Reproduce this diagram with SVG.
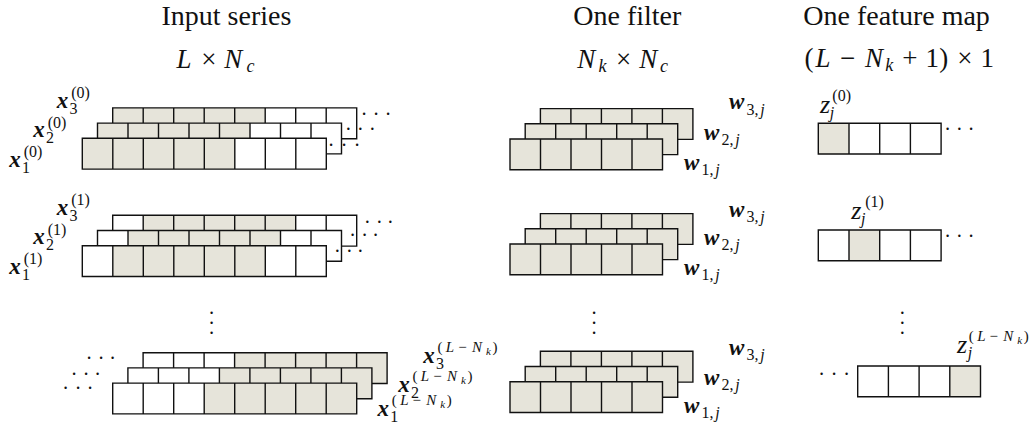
<svg xmlns="http://www.w3.org/2000/svg" width="1032" height="432" viewBox="0 0 1032 432" font-family="Liberation Serif" fill="#111">
<style>.s{fill:#e6e4da}.w{fill:#fff}.g{fill:none;stroke:#111;stroke-width:1.4}.i{font-style:italic}.b{font-weight:bold;font-style:italic;font-size:23px}.u{font-size:16px}.v{font-size:15px}.k{font-size:11px;font-style:italic}.d{font-size:20px}</style>
<defs>
<path id="g8" class="g" d="M0 0h244v30.8H0zM30.5 0v30.8M61 0v30.8M91.5 0v30.8M122 0v30.8M152.5 0v30.8M183 0v30.8M213.5 0v30.8"/>
<g id="A"><rect class="w" width="244" height="30.8"/><rect class="s" width="152.5" height="30.8"/><use href="#g8"/></g>
<g id="B"><rect class="w" width="244" height="30.8"/><rect class="s" x="30.5" width="152.5" height="30.8"/><use href="#g8"/></g>
<g id="C"><rect class="w" width="244" height="30.8"/><rect class="s" x="91.5" width="152.5" height="30.8"/><use href="#g8"/></g>
<g id="F"><rect class="s" width="152.5" height="30.8"/><path class="g" d="M0 0h152.5v30.8H0zM30.5 0v30.8M61 0v30.8M91.5 0v30.8M122 0v30.8"/></g>
<path id="g4" class="g" d="M0 0h122.8v30.7H0zM30.7 0v30.7M61.4 0v30.7M92.1 0v30.7"/>
</defs>
<rect class="w" width="1032" height="432"/>
<g id="headings">
<text font-size="28" x="161.5" y="25">Input series</text>
<text font-size="28" x="573.3" y="25">One filter</text>
<text font-size="28" x="803.3" y="25">One feature map</text>
<g font-size="27" text-anchor="middle">
<text y="68.3"><tspan class="i" x="184">L</tspan><tspan x="208.8">×</tspan><tspan class="i" x="233.3">N</tspan><tspan class="i" font-size="18" x="250.5" y="72">c</tspan></text>
<text y="67.7"><tspan class="i" x="586.3">N</tspan><tspan class="i" font-size="18" x="602.5" y="71.5">k</tspan><tspan x="623.7" y="67.7">×</tspan><tspan class="i" x="648.3">N</tspan><tspan class="i" font-size="18" x="664" y="71.5">c</tspan></text>
<text y="67"><tspan x="809">(</tspan><tspan class="i" x="823">L</tspan><tspan x="847.7">−</tspan><tspan class="i" x="874">N</tspan><tspan class="i" font-size="18" x="889.2" y="71">k</tspan><tspan x="909.9" y="67">+</tspan><tspan x="932.3">1</tspan><tspan x="943.8">)</tspan><tspan x="964.8">×</tspan><tspan x="987.2">1</tspan></text>
</g>
</g>
<!-- input channels at the first window position -->
<g id="input-0" text-anchor="middle">
<use href="#A" x="112.7" y="107.9"/><use href="#A" x="97.5" y="123.1"/><use href="#A" x="82.3" y="138.3"/>
<text class="d" x="364 376 388" y="121.1">···</text>
<text class="d" x="348.3 360.3 372.3" y="136.4">···</text>
<text class="d" x="331 344 357" y="152.1">···</text>
<text><tspan class="b" x="15" y="166.5">x</tspan><tspan class="u" x="26" y="172.5">1</tspan><tspan class="u" x="33" y="157">(0)</tspan></text>
<text><tspan class="b" x="39" y="137">x</tspan><tspan class="u" x="50" y="143">2</tspan><tspan class="u" x="57" y="127.5">(0)</tspan></text>
<text><tspan class="b" x="62.5" y="107.5">x</tspan><tspan class="u" x="73.5" y="113.5">3</tspan><tspan class="u" x="80.5" y="98">(0)</tspan></text>
</g>
<g id="input-1" text-anchor="middle">
<use href="#B" x="112.7" y="215.3"/><use href="#B" x="97.5" y="230.5"/><use href="#B" x="82.3" y="245.7"/>
<text class="d" x="367.3 379.3 390.3" y="228.7">···</text>
<text class="d" x="352.7 364.7 375.7" y="242.1">···</text>
<text class="d" x="337.3 349.3 360.3" y="257.7">···</text>
<text><tspan class="b" x="15" y="273.9">x</tspan><tspan class="u" x="26" y="279.9">1</tspan><tspan class="u" x="33" y="264.4">(1)</tspan></text>
<text><tspan class="b" x="39" y="244.4">x</tspan><tspan class="u" x="50" y="250.4">2</tspan><tspan class="u" x="57" y="234.9">(1)</tspan></text>
<text><tspan class="b" x="62.5" y="214.9">x</tspan><tspan class="u" x="73.5" y="220.9">3</tspan><tspan class="u" x="80.5" y="205.4">(1)</tspan></text>
</g>
<!-- input channels at the last window position -->
<g id="input-last" text-anchor="middle">
<text class="d" x="211.7 211.7 211.7" y="320.1 329.8 339.5">···</text>
<use href="#C" x="143.1" y="352.7"/><use href="#C" x="127.9" y="367.9"/><use href="#C" x="112.7" y="383.1"/>
<text class="d" x="89 101 112.7" y="365.4">···</text>
<text class="d" x="74 86 97.7" y="381.1">···</text>
<text class="d" x="65.7 78 90" y="395.4">···</text>
<text><tspan class="b" x="429" y="363.3">x</tspan><tspan class="u" x="440" y="369.3">3</tspan><tspan class="v" x="440" y="352.3">(</tspan><tspan class="v i" x="450">L</tspan><tspan class="v" x="462.5">−</tspan><tspan class="v i" x="477">N</tspan><tspan class="k" x="488.5" y="355.3">k</tspan><tspan class="v" x="495" y="352.3">)</tspan></text>
<text><tspan class="b" x="404" y="391.5">x</tspan><tspan class="u" x="415" y="397.5">2</tspan><tspan class="v" x="415" y="380.5">(</tspan><tspan class="v i" x="425">L</tspan><tspan class="v" x="437.5">−</tspan><tspan class="v i" x="452">N</tspan><tspan class="k" x="463.5" y="383.5">k</tspan><tspan class="v" x="470" y="380.5">)</tspan></text>
<text><tspan class="b" x="383.3" y="416">x</tspan><tspan class="u" x="394.3" y="422">1</tspan><tspan class="v" x="394.3" y="405">(</tspan><tspan class="v i" x="404.3">L</tspan><tspan class="v" x="416.8">−</tspan><tspan class="v i" x="431.3">N</tspan><tspan class="k" x="442.8" y="408">k</tspan><tspan class="v" x="449.3" y="405">)</tspan></text>
</g>
<!-- the filter, one row per input channel -->
<g id="filter-0" text-anchor="middle">
<use href="#F" x="540.4" y="108.6"/><use href="#F" x="525.2" y="123.8"/><use href="#F" x="510" y="139"/>
<text><tspan class="b" x="736.7" y="109.3">w</tspan><tspan class="u" x="752.5" y="114.5">3,</tspan><tspan class="u i" x="762.5">j</tspan></text>
<text><tspan class="b" x="711.7" y="140">w</tspan><tspan class="u" x="727.5" y="145.2">2,</tspan><tspan class="u i" x="737.5">j</tspan></text>
<text><tspan class="b" x="691.7" y="170">w</tspan><tspan class="u" x="707.5" y="175.2">1,</tspan><tspan class="u i" x="717.5">j</tspan></text>
</g>
<g id="filter-1" text-anchor="middle">
<use href="#F" x="540.4" y="213.6"/><use href="#F" x="525.2" y="228.8"/><use href="#F" x="510" y="244"/>
<text><tspan class="b" x="736.7" y="216.7">w</tspan><tspan class="u" x="752.5" y="221.9">3,</tspan><tspan class="u i" x="762.5">j</tspan></text>
<text><tspan class="b" x="711.7" y="245">w</tspan><tspan class="u" x="727.5" y="250.2">2,</tspan><tspan class="u i" x="737.5">j</tspan></text>
<text><tspan class="b" x="691.7" y="275">w</tspan><tspan class="u" x="707.5" y="280.2">1,</tspan><tspan class="u i" x="717.5">j</tspan></text>
</g>
<g id="filter-last" text-anchor="middle">
<text class="d" x="594 594 594" y="320.1 329.8 339.5">···</text>
<use href="#F" x="540.4" y="351.3"/><use href="#F" x="525.2" y="366.5"/><use href="#F" x="510" y="381.7"/>
<text><tspan class="b" x="736.7" y="355">w</tspan><tspan class="u" x="752.5" y="360.2">3,</tspan><tspan class="u i" x="762.5">j</tspan></text>
<text><tspan class="b" x="711.7" y="385">w</tspan><tspan class="u" x="727.5" y="390.2">2,</tspan><tspan class="u i" x="737.5">j</tspan></text>
<text><tspan class="b" x="691.7" y="412.7">w</tspan><tspan class="u" x="707.5" y="417.9">1,</tspan><tspan class="u i" x="717.5">j</tspan></text>
</g>
<!-- feature map: one value per window position -->
<g id="fmap-0" text-anchor="middle">
<rect class="w" x="818.3" y="123.3" width="122.8" height="30.7"/><rect class="s" x="818.3" y="123.3" width="30.7" height="30.7"/><use href="#g4" x="818.3" y="123.3"/>
<text class="d" x="947.7 959.4 971" y="136.4">···</text>
<text><tspan class="i" font-size="26" x="825" y="113.3">z</tspan><tspan class="u i" x="832" y="118.3">j</tspan><tspan class="u" x="841.7" y="101">(0)</tspan></text>
</g>
<g id="fmap-1" text-anchor="middle">
<rect class="w" x="818.3" y="230" width="122.8" height="30.7"/><rect class="s" x="849" y="230" width="30.7" height="30.7"/><use href="#g4" x="818.3" y="230"/>
<text class="d" x="947.7 959.4 971" y="242.7">···</text>
<text><tspan class="i" font-size="26" x="856.3" y="219.3">z</tspan><tspan class="u i" x="863.3" y="224.3">j</tspan><tspan class="u" x="874.5" y="207">(1)</tspan></text>
</g>
<g id="fmap-last" text-anchor="middle">
<text class="d" x="902.3 902.3 902.3" y="320.1 329.8 339.5">···</text>
<rect class="w" x="857.7" y="366" width="122.8" height="30.7"/><rect class="s" x="949.8" y="366" width="30.7" height="30.7"/><use href="#g4" x="857.7" y="366"/>
<text class="d" x="821.7 834.2 846.7" y="381.1">···</text>
<text><tspan class="i" font-size="26" x="962" y="353.3">z</tspan><tspan class="u i" x="970" y="358.3">j</tspan><tspan class="v" x="971.3" y="341">(</tspan><tspan class="v i" x="981.3">L</tspan><tspan class="v" x="993.8">−</tspan><tspan class="v i" x="1008.3">N</tspan><tspan class="k" x="1019.8" y="344">k</tspan><tspan class="v" x="1026.3" y="341">)</tspan></text>
</g>
</svg>
